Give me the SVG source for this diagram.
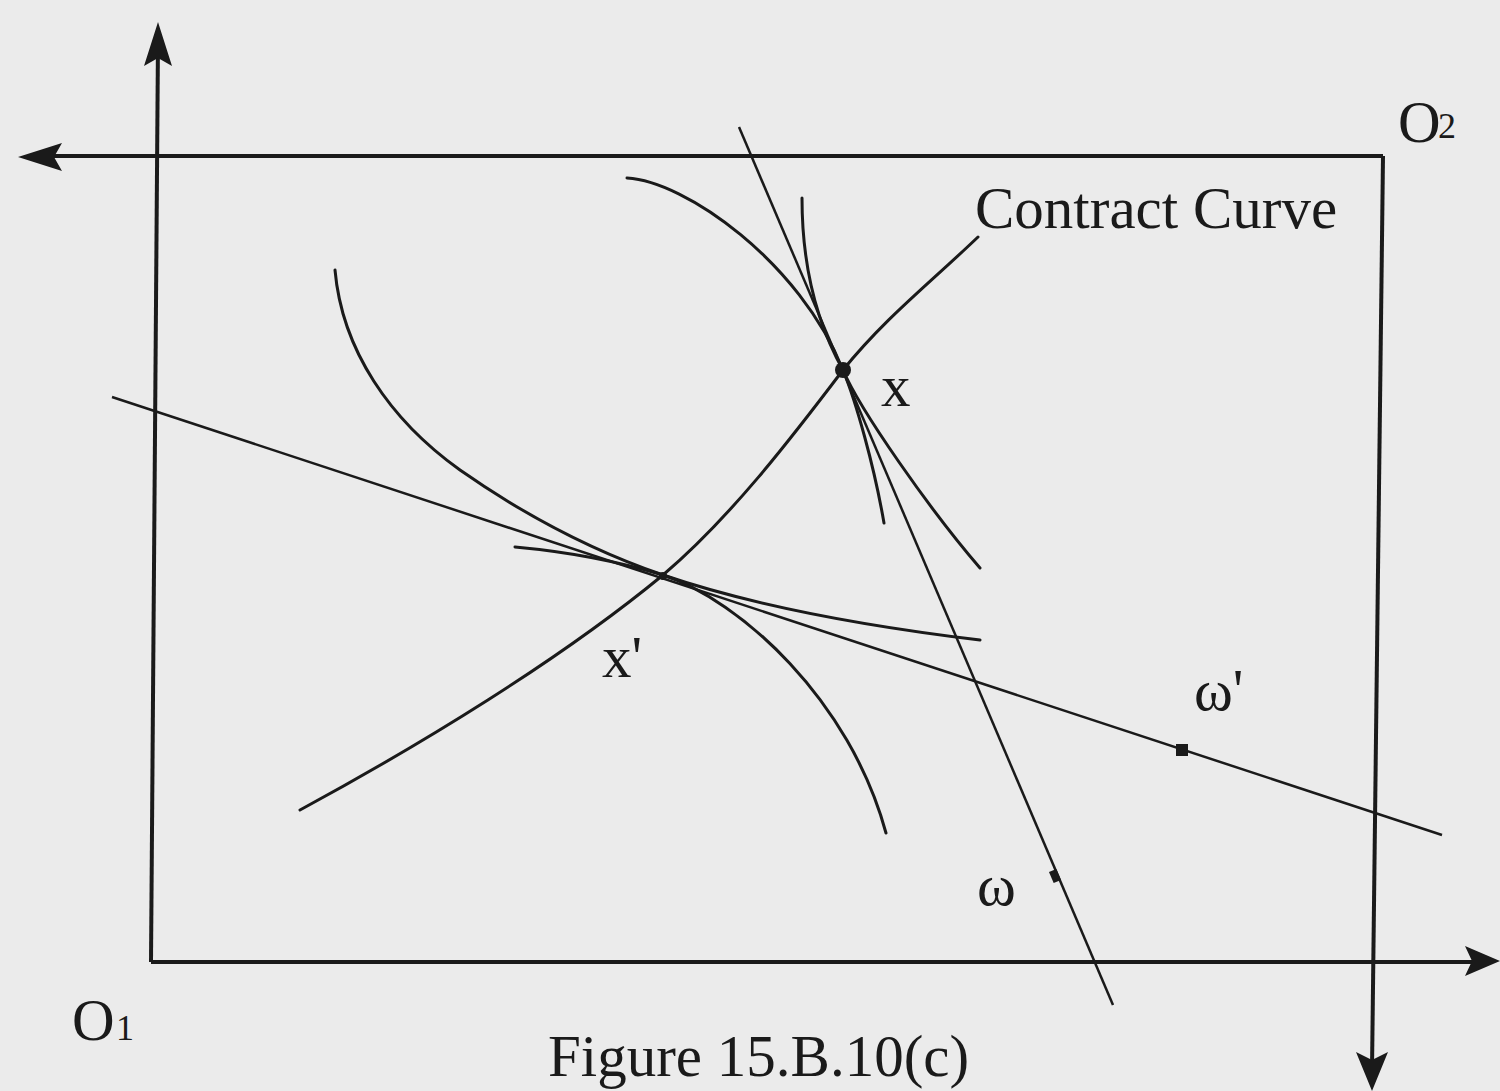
<svg xmlns="http://www.w3.org/2000/svg" width="1500" height="1091" viewBox="0 0 1500 1091">
<style>
.ax{stroke:#1a1a1a;stroke-width:4;fill:none}
.cv{stroke:#1a1a1a;stroke-width:3;fill:none;stroke-linecap:round}
.bl{stroke:#1a1a1a;stroke-width:2.5;fill:none}
.lbl{font-family:"Liberation Serif","Times New Roman",serif;font-size:59px;fill:#1a1a1a}
.sub{font-family:"Liberation Serif","Times New Roman",serif;font-size:36px;fill:#1a1a1a}
.ah{fill:#1a1a1a}
</style>
<rect x="0" y="0" width="1500" height="1091" fill="#ebebeb"/>
<g id="axes">
<line class="ax" x1="158" y1="40" x2="151" y2="962"/>
<line class="ax" x1="151" y1="962" x2="1475" y2="962"/>
<line class="ax" x1="40" y1="156" x2="1383" y2="156"/>
<line class="ax" x1="1383" y1="156" x2="1372" y2="1070"/>
<path class="ah" d="M158,22 L172,66 L158,58 L144,66 Z"/>
<path class="ah" d="M18,157 L62,143 L54,157 L62,171 Z"/>
<path class="ah" d="M1500,961 L1465,946 L1472,961 L1465,976 Z"/>
<path class="ah" d="M1372,1091 L1356,1052 L1372,1060 L1388,1052 Z"/>
</g>
<g id="connectors">
<path id="contract-curve" class="cv" d="M300,810 C420,745 560,660 663,575 C730,518 790,440 843,370 C885,318 930,283 978,237"/>
<line id="budget-line-prime" class="bl" x1="112" y1="397" x2="1442" y2="835"/>
<line id="budget-line" class="bl" x1="739" y1="127" x2="1113" y2="1005" stroke-width="2"/>
<path id="ic2-x" class="cv" d="M627,178 C685,181 800,262 843,370 C856,402 874,465 884,523"/>
<path id="ic1-x" class="cv" d="M802,198 C802,260 815,320 843,370 C860,410 930,510 980,568"/>
<path id="ic1-xp" class="cv" d="M335,270 C342,350 390,420 460,470 C520,512 590,550 663,575 C760,608 880,628 980,640"/>
<path id="ic2-xp" class="cv" d="M515,547 C570,552 620,562 663,575 C740,600 850,700 886,833"/>
</g>
<g id="point-x">
<circle cx="843" cy="370" r="8" fill="#1a1a1a"/>
<text class="lbl" x="881" y="406">x</text>
</g>
<g id="point-xprime">
<circle cx="663" cy="576" r="4" fill="#1a1a1a"/>
<text class="lbl" x="602" y="677">x'</text>
</g>
<g id="point-omega-prime">
<rect x="1176" y="744" width="12" height="12" fill="#1a1a1a"/>
<text class="lbl" x="1194" y="710">ω'</text>
</g>
<g id="point-omega">
<rect x="1051" y="870" width="8" height="12" fill="#1a1a1a" transform="rotate(-23 1055 876)"/>
<text class="lbl" x="977" y="905">ω</text>
</g>
<g id="label-contract-curve">
<text class="lbl" x="975" y="228">Contract Curve</text>
</g>
<g id="origin-1">
<text class="lbl" x="72" y="1040">O</text><text class="sub" x="116" y="1040">1</text>
</g>
<g id="origin-2">
<text class="lbl" x="1398" y="142">O</text><text class="sub" x="1438" y="138">2</text>
</g>
<g id="caption">
<text class="lbl" x="548" y="1076" font-size="57">Figure 15.B.10(c)</text>
</g>
</svg>
